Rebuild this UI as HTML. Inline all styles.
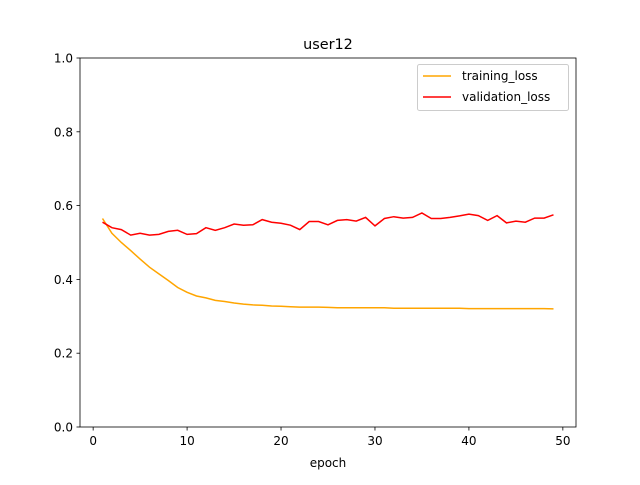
<!DOCTYPE html>
<html><head><meta charset="utf-8"><style>
body{margin:0;background:#fff;}
svg text{font-family:"DejaVu Sans","Liberation Sans",sans-serif;fill:#000;}
</style></head><body>
<svg id="s" width="640" height="480" viewBox="0 0 640 480" xmlns="http://www.w3.org/2000/svg">
<rect width="640" height="480" fill="#fff"/>
<text x="328" y="49" font-size="14.4" text-anchor="middle">user12</text>
<g id="ticks" font-size="12"></g>
<polyline id="tr" fill="none" stroke="#ffa500" stroke-width="1.5"/>
<polyline id="va" fill="none" stroke="#ff0000" stroke-width="1.5"/>
<rect x="80" y="58" width="496" height="369" fill="none" stroke="#000" stroke-width="0.8"/>
<text x="328" y="467" font-size="12" text-anchor="middle">epoch</text>
<rect x="417.5" y="64.5" width="151" height="46" rx="2" fill="#fff" fill-opacity="0.8" stroke="#ccc"/>
<line x1="423" y1="76" x2="451" y2="76" stroke="#ffa500" stroke-width="1.5"/>
<text x="462" y="80" font-size="12">training_loss</text>
<line x1="423" y1="97" x2="451" y2="97" stroke="#ff0000" stroke-width="1.5"/>
<text x="462" y="101" font-size="12">validation_loss</text>
</svg>
<script>
var va=[0.555,0.54,0.535,0.52,0.525,0.52,0.522,0.53,0.533,0.522,0.524,0.54,0.533,0.54,0.55,0.547,0.548,0.562,0.555,0.552,0.547,0.535,0.557,0.557,0.548,0.56,0.562,0.558,0.568,0.545,0.565,0.57,0.566,0.568,0.58,0.565,0.565,0.568,0.572,0.577,0.573,0.56,0.573,0.553,0.558,0.555,0.566,0.566,0.575];
var tr=[0.565,0.525,0.5,0.478,0.455,0.433,0.415,0.397,0.378,0.365,0.355,0.35,0.343,0.34,0.336,0.333,0.331,0.33,0.328,0.327,0.326,0.325,0.325,0.325,0.324,0.323,0.323,0.323,0.323,0.323,0.323,0.322,0.322,0.322,0.322,0.322,0.322,0.322,0.322,0.321,0.321,0.321,0.321,0.321,0.321,0.321,0.321,0.321,0.32];
function X(e){return 80+(e+1.4)*496/52.8;}
function Y(v){return 427-v*369;}
function pts(a){return a.map(function(v,i){return X(i+1).toFixed(1)+","+Y(v).toFixed(1)}).join(" ");}
document.getElementById("tr").setAttribute("points",pts(tr));
document.getElementById("va").setAttribute("points",pts(va));
var g=document.getElementById("ticks"),h="";
[0,10,20,30,40,50].forEach(function(e){var x=X(e);h+='<line x1="'+x+'" y1="427" x2="'+x+'" y2="430.5" stroke="#000" stroke-width="0.8"/><text x="'+x+'" y="445" text-anchor="middle">'+e+'</text>';});
[0,0.2,0.4,0.6,0.8,1.0].forEach(function(v){var y=Y(v);h+='<line x1="76.5" y1="'+y+'" x2="80" y2="'+y+'" stroke="#000" stroke-width="0.8"/><text x="73" y="'+(y+4.5)+'" text-anchor="end">'+v.toFixed(1)+'</text>';});
g.innerHTML=h;
</script>
</body></html>
